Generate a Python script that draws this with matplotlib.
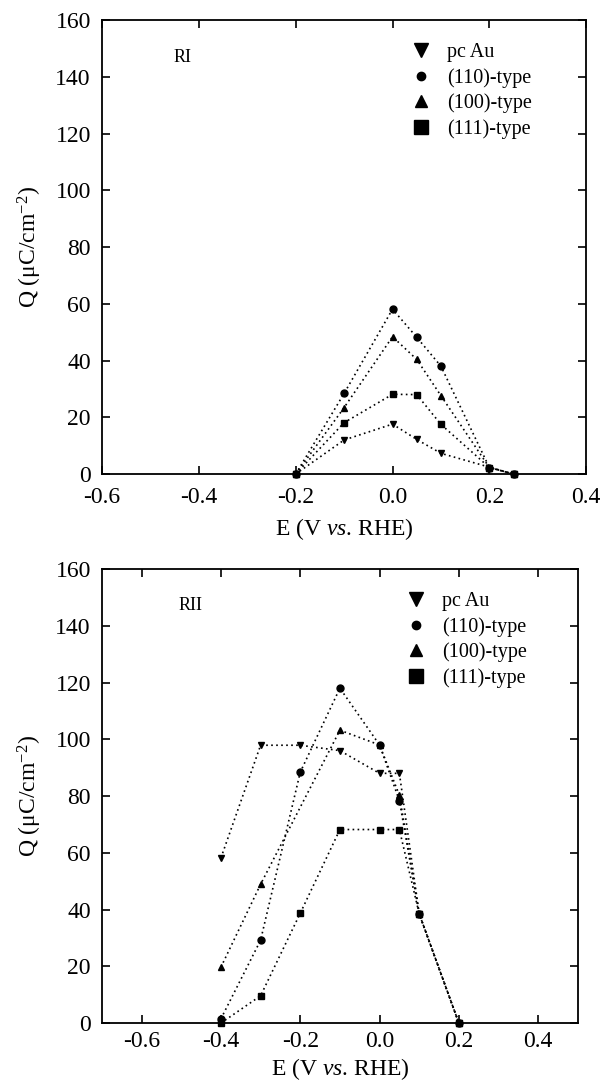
import matplotlib
matplotlib.use("Agg")
import matplotlib.pyplot as plt
from matplotlib.lines import Line2D

plt.rcParams["font.family"] = ["Liberation Serif", "DejaVu Serif"]
plt.rcParams["mathtext.fontset"] = "custom"
plt.rcParams["mathtext.rm"] = "Liberation Serif"
plt.rcParams["mathtext.it"] = "Liberation Serif:italic"

# ---- data: RI (top panel) ----
ri_pc_e = [-0.2, -0.1, 0.0, 0.05, 0.1, 0.25]
ri_pc_q = [0, 12, 17.6, 12.2, 7.3, 0]
ri_110_e = [-0.2, -0.1, 0.0, 0.05, 0.1, 0.2, 0.25]
ri_110_q = [0, 28.4, 58.1, 48.2, 38, 2.3, 0]
ri_100_e = [-0.2, -0.1, 0.0, 0.05, 0.1, 0.2, 0.25]
ri_100_q = [0, 23.4, 48.4, 40.4, 27.6, 2.3, 0]
ri_111_e = [-0.2, -0.1, 0.0, 0.05, 0.1, 0.2, 0.25]
ri_111_q = [0, 18.1, 28.1, 28, 17.5, 2.3, 0]

# ---- data: RII (bottom panel) ----
rii_pc_e = [-0.4, -0.3, -0.2, -0.1, 0.0, 0.05, 0.1, 0.2]
rii_pc_q = [58.2, 97.9, 97.9, 96, 88, 88, 38.5, 0]
rii_110_e = [-0.4, -0.3, -0.2, -0.1, 0.0, 0.05, 0.1, 0.2]
rii_110_q = [1.5, 29.2, 88.4, 118, 98, 78.4, 38.5, 0]
rii_100_e = [-0.4, -0.3, -0.1, 0.0, 0.05, 0.1, 0.2]
rii_100_q = [19.7, 48.9, 103.2, 98, 80.3, 38.5, 0]
rii_111_e = [-0.4, -0.3, -0.2, -0.1, 0.0, 0.05, 0.1, 0.2]
rii_111_q = [0, 9.6, 38.7, 68.2, 68.2, 68.2, 38.5, 0]

x_ticks = [-0.6, -0.4, -0.2, 0.0, 0.2, 0.4]
labels = ["pc Au", "(110)-type", "(100)-type", "(111)-type"]
markers = ["v", "o", "^", "s"]

fig = plt.figure(figsize=(6.0, 10.88), dpi=100)
ax1 = fig.add_axes([0.17, 0.5643, 0.807, 0.4173])
ax2 = fig.add_axes([0.17, 0.0597, 0.793, 0.4173])


def draw_panel(ax, series, tag, tag_xy, xlim, tpad, xpad):
    for (e, q), m in zip(series, markers):
        ax.plot(e, q, linestyle=(0, (1, 2)), color="black", lw=1.2,
                marker=m, markersize=5, clip_on=False)
    ax.set_xlim(*xlim)
    ax.set_ylim(0, 160)
    ax.set_xticks(x_ticks)
    ax.set_xticklabels([f"{t:.1f}" for t in x_ticks])
    ax.set_yticks(range(0, 161, 20))
    ax.tick_params(direction="in", top=True, right=True, length=6,
                   width=1.2, labelsize=17)
    ax.tick_params(axis="x", pad=tpad)
    ax.tick_params(axis="y", pad=8)
    for s in ax.spines.values():
        s.set_linewidth(1.3)
    ax.set_xlabel("E (V $\\it{vs}$. RHE)", fontsize=17, labelpad=xpad)
    ax.set_ylabel("Q (\u03bcC/cm$^{\\mathregular{-2}}$)", fontsize=17,
                  labelpad=8)
    ax.text(tag_xy[0], tag_xy[1], tag, transform=ax.transAxes,
            fontsize=13, ha="center", va="center")
    sizes = [10, 6, 9, 10]
    handles = [Line2D([], [], linestyle="none", marker=m, color="black",
                      markersize=sz) for m, sz in zip(markers, sizes)]
    ax.legend(handles, labels, loc="upper left", bbox_to_anchor=(0.6, 0.99),
              frameon=False, fontsize=14.5, handlelength=1.0,
              handletextpad=0.8, labelspacing=0.3)


draw_panel(ax1,
           [(ri_pc_e, ri_pc_q), (ri_110_e, ri_110_q),
            (ri_100_e, ri_100_q), (ri_111_e, ri_111_q)],
           "RI", (0.167, 0.918), (-0.6, 0.4), 9, 6)
draw_panel(ax2,
           [(rii_pc_e, rii_pc_q), (rii_110_e, rii_110_q),
            (rii_100_e, rii_100_q), (rii_111_e, rii_111_q)],
           "RII", (0.185, 0.92), (-0.7, 0.5), 6, 3)

fig.savefig("out.png", dpi=100)
